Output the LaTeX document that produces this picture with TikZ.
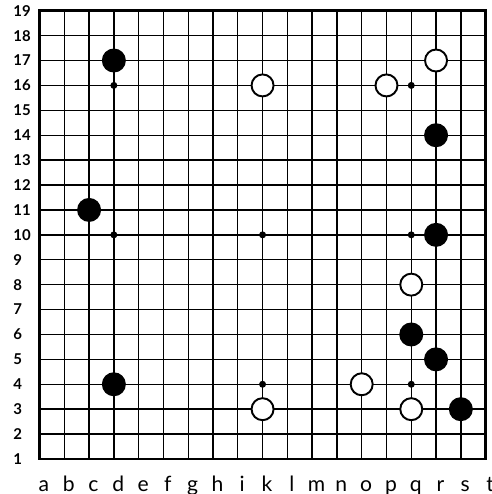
\documentclass[tikz,border=0pt]{standalone}
\usepackage{fontspec}
\setmainfont{Lato}
\begin{document}
\begin{tikzpicture}[x=0.4956cm, y=0.498cm,
  bstone/.style={circle,fill=black,inner sep=0pt,minimum size=0.48cm},
  wstone/.style={circle,draw,fill=white,line width=1.1pt,inner sep=0pt,minimum size=0.44cm},
  hoshi/.style={circle,fill=black,inner sep=0pt,minimum size=0.14cm}]
\useasboundingbox (-1.594,-1.406) rectangle (18.22,18.43);
\draw[line width=0.8pt] \foreach \i in {1,...,17} {(\i,0) -- (\i,18) (0,\i) -- (18,\i)};
\draw[line width=1.6pt] (0,0) rectangle (18,18);
\foreach \c/\r in {3/3,3/9,3/15,9/3,9/9,9/15,15/3,15/9,15/15} \node[hoshi] at (\c,\r) {};
\foreach \l [count=\i from 0] in {a,b,c,d,e,f,g,h,i,k,l,m,n,o,p,q,r,s,t}
  \node[anchor=base,font=\fontsize{12}{14}\selectfont] (col\l) at (\i+0.18,-1.29) {\l};
\foreach \r in {1,...,19}
  \node[anchor=west,inner sep=0pt,font=\fontsize{8.5}{10}\selectfont\bfseries] (row\r) at (-1.07,\r-1) {\r};
% black
\node[bstone] (d17) at (3,16) {};
\node[bstone] (r14) at (16,13) {};
\node[bstone] (c11) at (2,10) {};
\node[bstone] (r10) at (16,9) {};
\node[bstone] (q6) at (15,5) {};
\node[bstone] (r5) at (16,4) {};
\node[bstone] (d4) at (3,3) {};
\node[bstone] (s3) at (17,2) {};
% white
\node[wstone] (k16) at (9,15) {};
\node[wstone] (p16) at (14,15) {};
\node[wstone] (r17) at (16,16) {};
\node[wstone] (q8) at (15,7) {};
\node[wstone] (o4) at (13,3) {};
\node[wstone] (k3) at (9,2) {};
\node[wstone] (q3) at (15,2) {};
\end{tikzpicture}
\end{document}
